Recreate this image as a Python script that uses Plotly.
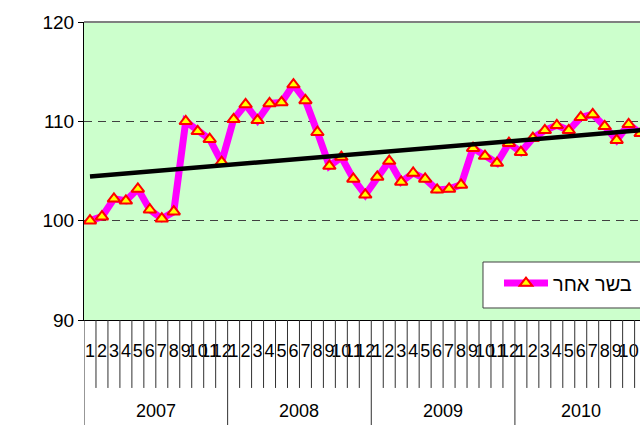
import plotly.graph_objects as go

years = ["2007", "2008", "2009", "2010"]
months_per_year = [12, 12, 12, 11]
values_2007 = [100.0, 100.4, 102.2, 102.0, 103.2, 101.1, 100.2, 100.9, 110.0, 109.0, 108.2, 105.9]
values_2008 = [110.2, 111.7, 110.1, 111.8, 111.9, 113.7, 112.1, 108.9, 105.5, 106.4, 104.2, 102.6]
values_2009 = [104.4, 106.0, 103.9, 104.8, 104.2, 103.1, 103.2, 103.6, 107.3, 106.5, 105.8, 107.8]
values_2010 = [106.9, 108.3, 109.1, 109.6, 109.1, 110.4, 110.7, 109.5, 108.1, 109.7, 108.8]
series_name = "בשר אחר"
trend_values = [104.44, 109.1]   # linear trend at first and last month
y_ticks = [90, 100, 110, 120]

values = values_2007 + values_2008 + values_2009 + values_2010
month_labels = []
for n in months_per_year:
    month_labels += [str(m) for m in range(1, n + 1)]
idx = list(range(len(values)))

FONT = "Liberation Sans Narrow, Arial Narrow, Liberation Sans, Arial, sans-serif"
FONT_LEG = "Liberation Sans, Arial, sans-serif"

fig = go.Figure()
fig.add_trace(go.Scatter(
    x=idx, y=values, name=series_name, mode="lines+markers",
    line=dict(color="#FF00FF", width=7),
    marker=dict(symbol="triangle-up", size=11, color="#FFFF00",
                line=dict(color="#FF0000", width=2)),
))
fig.add_trace(go.Scatter(
    x=[idx[0], idx[-1]], y=trend_values, mode="lines", showlegend=False,
    line=dict(color="black", width=4.5), hoverinfo="skip",
))

shapes = []
# top border
shapes.append(dict(type="line", xref="paper", yref="paper", x0=0, x1=1, y0=1, y1=1,
                   line=dict(color="#808080", width=2)))
# legend frame
shapes.append(dict(type="rect", xref="paper", yref="paper", x0=0.7176, x1=1.05,
                   y0=0.0403, y1=0.1946, fillcolor="white",
                   line=dict(color="#404040", width=1), layer="above"))
# month and year dividers below the axis
year_bounds = set()
s = 0
for n in months_per_year:
    year_bounds.add(s)
    s += n
for b in range(len(values)):
    if b in year_bounds:
        y1 = -0.36
    else:
        y1 = -0.228
    shapes.append(dict(type="line", xref="x", yref="paper", x0=b - 0.5, x1=b - 0.5,
                       y0=0, y1=y1, line=dict(color="#303030", width=1)))

annotations = []
s = 0
for yr, n in zip(years, months_per_year):
    annotations.append(dict(text=yr, xref="x", yref="paper", x=s + (n - 1) / 2,
                            y=-0.305, showarrow=False, yanchor="middle", xanchor="center",
                            font=dict(family=FONT, size=18, color="black")))
    s += n

fig.update_layout(
    width=640, height=425,
    margin=dict(l=84, r=0, t=22, b=105),
    paper_bgcolor="white", plot_bgcolor="#CCFFCC",
    shapes=shapes, annotations=annotations,
    font=dict(family=FONT, color="black"),
    legend=dict(x=0.7464, y=0.124, xanchor="left", yanchor="middle",
                bgcolor="rgba(0,0,0,0)", borderwidth=0,
                font=dict(family=FONT_LEG, size=20, color="black"),
                itemwidth=44),
    xaxis=dict(range=[-0.5, 45.95], tickmode="array", tickvals=idx, ticktext=month_labels,
               tickangle=0, ticks="outside", ticklen=14, tickcolor="rgba(0,0,0,0)",
               showline=True, linecolor="black", linewidth=1, showgrid=False, zeroline=False,
               tickfont=dict(family=FONT, size=18, color="black")),
    yaxis=dict(range=[90, 120], tickmode="array", tickvals=y_ticks,
               ticks="outside", ticklen=5, tickcolor="black",
               showline=True, linecolor="black", linewidth=1,
               showgrid=True, gridcolor="#404040", griddash="8px,6px", gridwidth=1,
               zeroline=False,
               tickfont=dict(family=FONT, size=19, color="black")),
)

fig.write_html(
    "out.html",
    config={"displayModeBar": False},
    post_script="document.body.style.margin='0px';"
                "document.documentElement.style.overflow='hidden';"
                "document.body.style.overflow='hidden';",
)
